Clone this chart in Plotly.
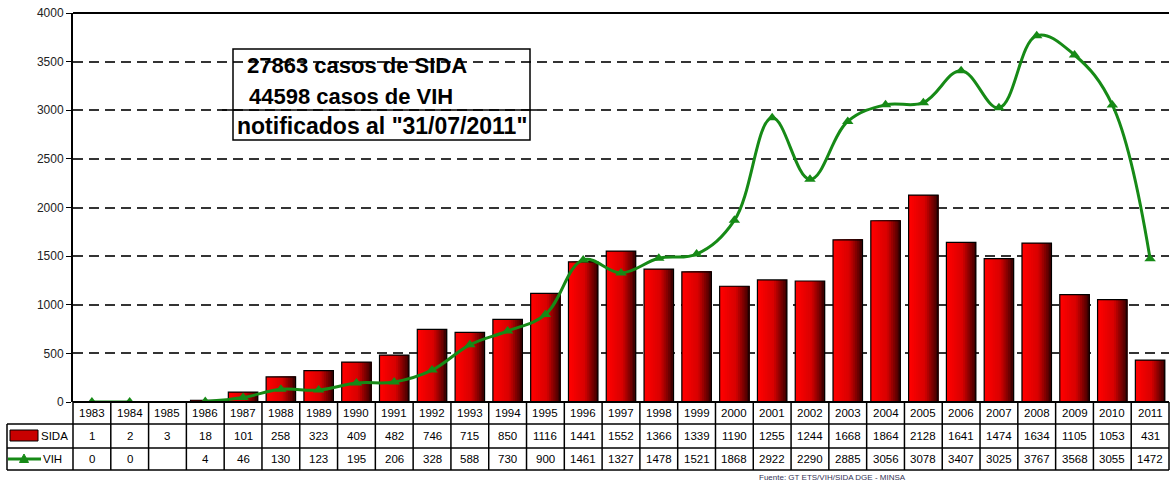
import plotly.graph_objects as go

years = [str(y) for y in range(1983, 2012)]
sida = [1, 2, 3, 18, 101, 258, 323, 409, 482, 746, 715, 850, 1116, 1441, 1552,
        1366, 1339, 1190, 1255, 1244, 1668, 1864, 2128, 1641, 1474, 1634, 1105, 1053, 431]
vih = [0, 0, None, 4, 46, 130, 123, 195, 206, 328, 588, 730, 900, 1461, 1327,
       1478, 1521, 1868, 2922, 2290, 2885, 3056, 3078, 3407, 3025, 3767, 3568, 3055, 1472]
row_labels = ["SIDA", "VIH"]
box_lines = ["27863 casos de SIDA", "44598 casos de VIH", "notificados al \"31/07/2011\""]
source_text = "Fuente: GT ETS/VIH/SIDA DGE - MINSA"

W, H = 1172, 482
ML, MR, MT, MB = 73, 3, 13, 80
pw = W - ML - MR
ph = H - MT - MB


def px_x(p):
    return (p - ML) / pw


def px_y(p):
    return (H - MB - p) / ph


FONT = "Liberation Sans, Arial, sans-serif"
GREEN = "#168A16"
fig = go.Figure()

# gradient bars (overlaid slices, each reaching to the bar's right edge)
bw = 0.78
N = 16
for k in range(N):
    t = k / (N - 1)
    if t < 0.55:
        r = 255 - int(40 * t / 0.55)
    else:
        r = 215 - int(150 * (t - 0.55) / 0.45)
    col = f"rgb({r},0,0)"
    fig.add_trace(go.Bar(x=years, y=sida, width=bw - k * bw / N, offset=-bw / 2 + k * bw / N,
                         marker=dict(color=col, line=dict(width=0)), showlegend=False,
                         name="SIDA", hoverinfo="skip"))
fig.add_trace(go.Bar(x=years, y=sida, width=bw, offset=-bw / 2,
                     marker=dict(color="rgba(0,0,0,0)", line=dict(color="black", width=1.2)),
                     showlegend=False, name="SIDA"))

fig.add_trace(go.Scatter(x=years, y=vih, mode="lines+markers", name="VIH",
                         line=dict(color=GREEN, width=3, shape="spline", smoothing=1.1),
                         marker=dict(symbol="triangle-up", size=10, color=GREEN),
                         connectgaps=False, showlegend=False))

shapes = []
annotations = []

# top border
shapes.append(dict(type="line", xref="paper", yref="paper", x0=0, x1=1, y0=1, y1=1,
                   line=dict(color="black", width=2)))

# table grid
y_rows = [px_y(402), px_y(424), px_y(448), px_y(470)]
x_left = px_x(7)
shapes.append(dict(type="line", xref="paper", yref="paper", x0=0, x1=1, y0=y_rows[0], y1=y_rows[0],
                   line=dict(color="black", width=2)))
for yy in y_rows[1:]:
    shapes.append(dict(type="line", xref="paper", yref="paper", x0=x_left, x1=px_x(1169), y0=yy, y1=yy,
                       line=dict(color="black", width=1.5)))
for i in range(len(years) + 1):
    xx = px_x(ML + i * pw / len(years))
    shapes.append(dict(type="line", xref="paper", yref="paper", x0=xx, x1=xx,
                       y0=y_rows[0], y1=y_rows[3], line=dict(color="black", width=1.5)))
shapes.append(dict(type="line", xref="paper", yref="paper", x0=x_left, x1=x_left,
                   y0=y_rows[1], y1=y_rows[3], line=dict(color="black", width=1.5)))

# legend swatches in table
shapes.append(dict(type="rect", xref="paper", yref="paper", x0=px_x(10), x1=px_x(38),
                   y0=px_y(441), y1=px_y(430), fillcolor="#C80000", line=dict(color="black", width=1)))
shapes.append(dict(type="line", xref="paper", yref="paper", x0=px_x(8), x1=px_x(41),
                   y0=px_y(459), y1=px_y(459), line=dict(color=GREEN, width=3)))
cx, cy = px_x(24), px_y(459)
dx, dy = 4.5 / pw, 5 / ph
shapes.append(dict(type="path", xref="paper", yref="paper",
                   path=f"M {cx - dx},{cy - dy * 0.7} L {cx + dx},{cy - dy * 0.7} L {cx},{cy + dy} Z",
                   fillcolor=GREEN, line=dict(color=GREEN, width=1)))

tf = dict(size=11.5, color="black", family=FONT)
# table text
for i, yv in enumerate(years):
    annotations.append(dict(x=i, y=px_y(413), xref="x", yref="paper", text=yv, showarrow=False,
                            xanchor="center", yanchor="middle", font=tf))
    annotations.append(dict(x=i, y=px_y(436), xref="x", yref="paper", text=str(sida[i]), showarrow=False,
                            xanchor="center", yanchor="middle", font=tf))
    if vih[i] is not None:
        annotations.append(dict(x=i, y=px_y(459), xref="x", yref="paper", text=str(vih[i]), showarrow=False,
                                xanchor="center", yanchor="middle", font=tf))
annotations.append(dict(x=px_x(39), y=px_y(436), xref="paper", yref="paper", text=row_labels[0],
                        showarrow=False, xanchor="left", yanchor="middle", font=tf))
annotations.append(dict(x=px_x(41), y=px_y(459), xref="paper", yref="paper", text=row_labels[1],
                        showarrow=False, xanchor="left", yanchor="middle", font=tf))

# source
annotations.append(dict(x=px_x(832), y=px_y(477), xref="paper", yref="paper", text=source_text,
                        showarrow=False, xanchor="center", yanchor="middle",
                        font=dict(size=8, color="#333355", family=FONT)))

# text box
shapes.append(dict(type="rect", xref="paper", yref="paper", x0=px_x(233), x1=px_x(530),
                   y0=px_y(140), y1=px_y(49), line=dict(color="black", width=1.5)))
shapes.append(dict(type="line", xref="paper", yref="paper", x0=px_x(222), x1=px_x(537),
                   y0=px_y(110), y1=px_y(110), line=dict(color="black", width=1.5)))
for txt, yp, xp, fs in zip(box_lines, [65, 96, 126], [245, 247, 235], [22, 22, 23]):
    annotations.append(dict(x=px_x(xp), y=px_y(yp), xref="paper", yref="paper", text=f"<b>{txt}</b>",
                            showarrow=False, xanchor="left", yanchor="middle",
                            font=dict(size=fs, color="black", family=FONT)))

fig.update_layout(
    width=W, height=H,
    margin=dict(l=ML, r=MR, t=MT, b=MB, autoexpand=False),
    paper_bgcolor="white", plot_bgcolor="white",
    barmode="overlay",
    shapes=shapes, annotations=annotations,
    xaxis=dict(type="category", range=[-0.5, len(years) - 0.5], showticklabels=False,
               showgrid=False, zeroline=False, showline=False, ticks=""),
    yaxis=dict(range=[0, 4000], dtick=500, showgrid=True, gridcolor="#333333", gridwidth=2,
               griddash="10px,6px", zeroline=False, showline=True, linecolor="black", linewidth=2,
               ticks="outside", ticklen=5, tickcolor="black", automargin=False,
               tickfont=dict(size=12, color="#222222", family=FONT)),
)

fig.write_html("out.html", config={"displayModeBar": False},
               post_script="document.body.style.margin='0';")
